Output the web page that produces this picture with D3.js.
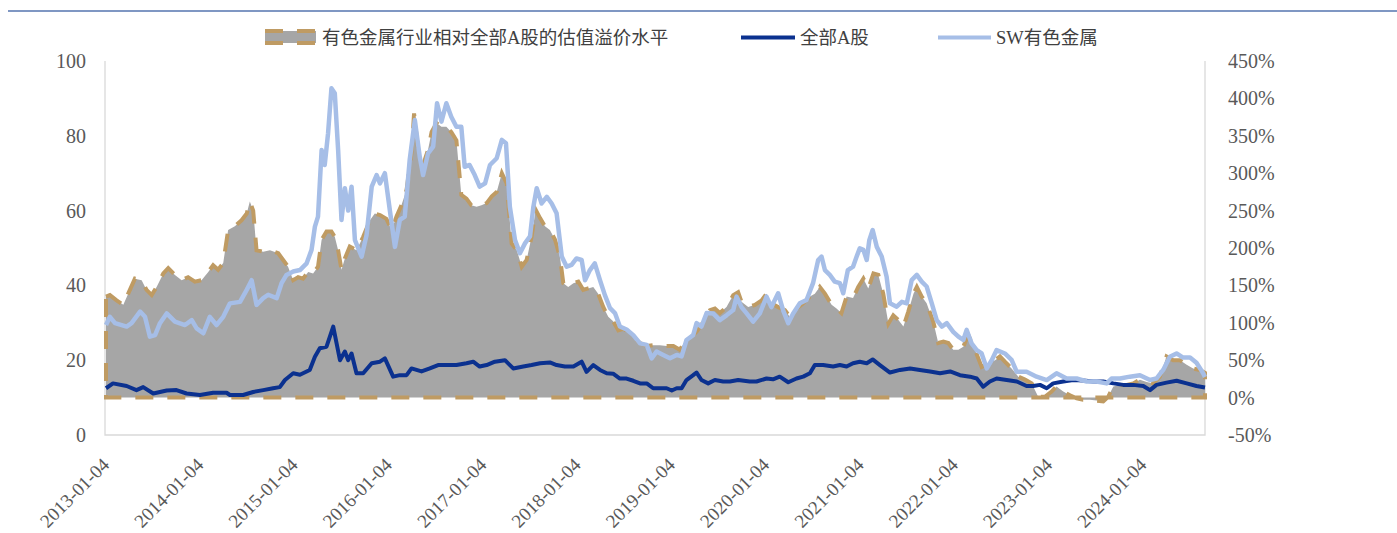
<!DOCTYPE html>
<html>
<head>
<meta charset="utf-8">
<script src="https://cdn.jsdelivr.net/npm/d3@7"></script>
<style>
  body { margin: 0; background: #fff; }
  text { font-family: "Liberation Serif", "Noto Sans CJK SC", serif; }
</style>
</head>
<body>
<svg id="chart"></svg>
<script>
// SW有色金属 PE
const swMetals = [
  ["2013-01-04",29.4],["2013-01-19",31.6],["2013-02-08",29.9],["2013-03-25",29.0],["2013-04-13",29.9],
  ["2013-05-16",33.0],["2013-06-04",31.6],["2013-06-23",26.3],["2013-07-13",26.7],["2013-08-01",29.9],
  ["2013-08-27",32.5],["2013-09-28",30.3],["2013-11-06",29.4],["2013-12-02",30.7],["2013-12-21",28.5],
  ["2014-01-16",27.2],["2014-02-10",31.6],["2014-03-08",29.4],["2014-04-03",31.6],["2014-04-29",35.2],
  ["2014-06-07",35.6],["2014-07-03",38.8],["2014-07-22",41.4],["2014-08-10",34.8],["2014-09-05",36.6],
  ["2014-09-24",37.5],["2014-10-27",36.6],["2014-11-15",40.6],["2014-12-04",42.8],["2014-12-30",43.7],
  ["2015-01-25",44.1],["2015-02-20",45.9],["2015-03-11",49.5],["2015-03-24",55.7],["2015-04-05",58.4],
  ["2015-04-19",76.2],["2015-05-01",72.2],["2015-05-14",80.7],["2015-05-27",92.7],["2015-06-09",91.4],
  ["2015-06-22",76.2],["2015-07-05",57.5],["2015-07-18",66.0],["2015-07-31",60.0],["2015-08-13",66.4],
  ["2015-08-26",52.1],["2015-09-21",47.7],["2015-10-10",53.5],["2015-10-30",66.4],["2015-11-18",69.5],
  ["2015-12-01",67.3],["2015-12-20",70.0],["2016-01-08",60.2],["2016-01-28",50.3],["2016-02-16",57.5],
  ["2016-03-06",58.4],["2016-03-25",73.5],["2016-04-14",84.2],["2016-05-03",74.4],["2016-05-16",69.5],
  ["2016-06-04",75.3],["2016-06-24",77.1],["2016-07-09",88.7],["2016-07-26",83.8],["2016-08-14",88.7],
  ["2016-09-02",85.1],["2016-09-22",82.4],["2016-10-11",82.4],["2016-10-24",71.7],["2016-11-12",72.2],
  ["2016-12-02",69.5],["2016-12-21",66.4],["2017-01-11",67.3],["2017-01-30",72.2],["2017-02-25",74.0],
  ["2017-03-17",78.9],["2017-04-02",78.0],["2017-04-17",61.0],["2017-05-07",52.1],["2017-05-26",48.6],
  ["2017-06-15",51.3],["2017-07-04",53.1],["2017-07-17",61.0],["2017-07-30",66.0],["2017-08-18",61.9],
  ["2017-09-07",63.7],["2017-09-26",61.9],["2017-10-15",59.3],["2017-11-04",47.7],["2017-11-23",45.0],
  ["2017-12-12",45.5],["2017-12-31",47.2],["2018-01-20",46.8],["2018-02-02",41.4],["2018-02-21",44.1],
  ["2018-03-12",45.9],["2018-04-01",41.4],["2018-04-20",37.4],["2018-05-10",33.9],["2018-05-29",32.6],
  ["2018-06-17",29.0],["2018-07-13",28.2],["2018-08-08",26.7],["2018-09-03",24.5],["2018-09-29",24.1],
  ["2018-10-18",20.5],["2018-11-06",22.3],["2018-12-02",21.4],["2018-12-28",20.5],["2019-01-23",21.4],
  ["2019-02-11",21.0],["2019-03-02",25.4],["2019-03-28",26.7],["2019-04-10",29.9],["2019-04-29",29.0],
  ["2019-05-19",32.6],["2019-06-13",32.5],["2019-07-09",30.7],["2019-08-04",32.0],["2019-08-30",33.4],
  ["2019-09-12",37.0],["2019-10-01",34.2],["2019-10-21",32.5],["2019-11-15",30.3],["2019-12-11",32.5],
  ["2020-01-06",37.0],["2020-01-25",34.2],["2020-02-20",37.9],["2020-03-10",33.4],["2020-03-30",29.9],
  ["2020-04-18",32.5],["2020-05-14",35.2],["2020-06-09",36.1],["2020-07-04",40.6],["2020-07-24",46.8],
  ["2020-08-06",47.7],["2020-08-19",44.1],["2020-09-07",42.8],["2020-09-26",41.0],["2020-10-16",40.6],
  ["2020-10-29",37.9],["2020-11-16",44.1],["2020-12-06",45.0],["2020-12-20",47.7],["2021-01-01",49.9],
  ["2021-01-15",49.5],["2021-01-28",46.8],["2021-02-07",52.1],["2021-02-20",54.8],["2021-03-08",50.3],
  ["2021-03-27",47.7],["2021-04-15",42.3],["2021-04-28",35.2],["2021-05-24",34.3],["2021-06-13",35.6],
  ["2021-07-02",35.2],["2021-07-21",41.4],["2021-08-10",42.8],["2021-08-29",41.0],["2021-09-17",39.7],
  ["2021-10-07",35.2],["2021-10-26",30.7],["2021-11-15",29.0],["2021-12-04",29.9],["2021-12-29",27.6],
  ["2022-01-18",26.3],["2022-02-06",25.4],["2022-02-19",28.1],["2022-03-10",24.5],["2022-03-30",22.7],
  ["2022-04-18",21.8],["2022-05-08",17.8],["2022-05-27",20.0],["2022-06-15",22.7],["2022-07-17",21.8],
  ["2022-08-12",20.1],["2022-09-01",16.9],["2022-10-09",16.9],["2022-11-17",15.6],["2022-12-26",14.7],
  ["2023-02-02",16.5],["2023-03-13",15.1],["2023-04-21",15.1],["2023-05-30",14.3],["2023-07-07",14.3],
  ["2023-08-15",13.8],["2023-09-03",15.1],["2023-10-06",15.1],["2023-11-13",15.6],["2023-12-22",16.0],
  ["2024-01-30",14.7],["2024-02-24",15.1],["2024-03-21",17.4],["2024-04-16",20.9],["2024-05-12",21.8],
  ["2024-06-06",20.7],["2024-07-03",20.7],["2024-07-28",19.3],["2024-08-23",16.5],["2024-08-30",15.5]
];

// 全部A股 PE
const allShares = [
  ["2013-01-04",12.5],["2013-01-31",13.8],["2013-03-25",13.1],["2013-05-02",12.0],["2013-05-28",12.8],
  ["2013-07-06",11.1],["2013-08-27",11.9],["2013-10-04",12.0],["2013-11-12",11.1],["2014-01-03",10.7],
  ["2014-02-23",11.3],["2014-04-16",11.3],["2014-04-29",10.7],["2014-06-19",10.7],["2014-07-28",11.5],
  ["2014-09-05",12.0],["2014-10-13",12.5],["2014-11-08",12.8],["2014-11-28",14.7],["2014-12-30",16.5],
  ["2015-01-25",16.1],["2015-03-04",17.4],["2015-03-24",20.9],["2015-04-12",23.2],["2015-05-08",23.6],
  ["2015-05-21",26.3],["2015-06-03",29.0],["2015-06-16",24.5],["2015-06-29",20.0],["2015-07-18",22.3],
  ["2015-07-31",20.0],["2015-08-13",21.8],["2015-09-01",16.5],["2015-09-27",16.5],["2015-10-30",19.2],
  ["2015-12-01",19.6],["2015-12-20",20.5],["2016-01-21",15.6],["2016-02-16",16.0],["2016-03-13",16.0],
  ["2016-04-01",17.8],["2016-05-10",17.0],["2016-06-11",17.8],["2016-07-13",18.7],["2016-08-14",18.7],
  ["2016-09-22",18.7],["2016-10-31",19.2],["2016-11-26",19.6],["2016-12-21",18.3],["2017-01-17",18.7],
  ["2017-02-18",19.6],["2017-03-29",20.0],["2017-04-30",17.8],["2017-06-08",18.3],["2017-07-10",18.7],
  ["2017-08-12",19.2],["2017-09-19",19.4],["2017-10-15",18.7],["2017-11-16",18.3],["2017-12-19",18.3],
  ["2018-01-20",19.6],["2018-02-08",16.9],["2018-03-06",18.7],["2018-04-01",17.4],["2018-04-27",16.5],
  ["2018-05-22",16.4],["2018-06-17",15.1],["2018-07-13",15.1],["2018-08-08",14.5],["2018-09-03",13.8],
  ["2018-09-29",13.8],["2018-10-24",12.5],["2018-11-19",12.5],["2018-12-15",12.5],["2019-01-04",11.9],
  ["2019-01-23",12.5],["2019-02-11",12.5],["2019-03-02",14.7],["2019-03-28",16.0],["2019-04-10",16.7],
  ["2019-04-29",14.7],["2019-05-25",13.8],["2019-06-20",14.7],["2019-07-22",14.3],["2019-08-17",14.3],
  ["2019-09-18",14.7],["2019-11-02",14.3],["2019-11-28",14.3],["2020-01-06",15.1],["2020-01-31",14.9],
  ["2020-02-26",15.6],["2020-03-30",14.1],["2020-05-01",15.1],["2020-05-27",15.6],["2020-06-22",16.5],
  ["2020-07-11",18.7],["2020-08-12",18.7],["2020-09-20",18.3],["2020-10-16",18.7],["2020-11-11",18.3],
  ["2020-12-06",19.2],["2021-01-01",19.6],["2021-01-28",19.2],["2021-02-20",20.2],["2021-03-20",18.7],
  ["2021-04-28",16.7],["2021-06-06",17.4],["2021-07-15",17.8],["2021-08-22",17.4],["2021-09-30",17.0],
  ["2021-11-08",16.5],["2021-12-17",17.0],["2022-01-24",16.0],["2022-03-04",15.6],["2022-03-30",15.1],
  ["2022-04-24",12.9],["2022-05-20",14.3],["2022-06-15",15.1],["2022-07-24",14.7],["2022-09-01",14.3],
  ["2022-10-09",13.1],["2022-11-04",13.1],["2022-11-30",13.4],["2022-12-26",12.5],["2023-01-20",13.8],
  ["2023-02-28",14.3],["2023-04-08",14.7],["2023-05-16",14.6],["2023-06-24",14.3],["2023-08-02",14.3],
  ["2023-09-10",13.8],["2023-10-18",13.4],["2023-11-26",13.4],["2024-01-04",13.1],["2024-01-30",12.0],
  ["2024-02-24",13.4],["2024-04-03",14.0],["2024-05-12",14.5],["2024-06-20",13.8],["2024-07-28",13.1],
  ["2024-08-30",12.7]
];

// 估值溢价水平 (%)
const premium = [
  ["2013-01-04",135],["2013-01-19",137],["2013-02-14",130],["2013-03-12",124],["2013-03-31",139],
  ["2013-04-26",159],["2013-05-22",157],["2013-06-10",144],["2013-06-30",137],["2013-07-19",148],
  ["2013-08-14",166],["2013-09-02",173],["2013-09-28",164],["2013-10-24",157],["2013-11-18",161],
  ["2013-12-14",155],["2014-01-09",157],["2014-02-04",168],["2014-02-23",177],["2014-03-14",171],
  ["2014-04-03",180],["2014-04-22",224],["2014-05-18",229],["2014-06-13",237],["2014-07-03",246],
  ["2014-07-15",262],["2014-07-28",250],["2014-08-10",197],["2014-09-05",195],["2014-10-01",197],
  ["2014-11-02",193],["2014-11-21",184],["2014-12-10",175],["2014-12-30",157],["2015-01-18",161],
  ["2015-02-06",159],["2015-02-26",168],["2015-03-17",166],["2015-04-05",175],["2015-04-19",211],
  ["2015-05-08",222],["2015-05-27",222],["2015-06-09",215],["2015-06-22",197],["2015-07-05",171],
  ["2015-07-18",186],["2015-08-06",202],["2015-09-01",197],["2015-09-27",215],["2015-10-23",237],
  ["2015-11-11",246],["2015-12-01",244],["2015-12-26",239],["2016-01-15",224],["2016-02-03",242],
  ["2016-02-22",257],["2016-03-13",278],["2016-04-01",327],["2016-04-11",380],["2016-04-27",331],
  ["2016-05-16",311],["2016-06-04",331],["2016-06-18",355],["2016-07-07",367],["2016-07-26",362],
  ["2016-08-14",362],["2016-09-02",355],["2016-09-22",344],["2016-10-11",271],["2016-10-31",266],
  ["2016-11-19",257],["2016-12-09",255],["2016-12-28",257],["2017-01-17",260],["2017-02-06",269],
  ["2017-02-25",275],["2017-03-17",300],["2017-04-05",286],["2017-04-24",206],["2017-05-14",197],
  ["2017-06-02",175],["2017-06-21",184],["2017-07-10",215],["2017-07-26",251],["2017-08-12",240],
  ["2017-08-31",229],["2017-09-19",224],["2017-10-09",211],["2017-10-28",188],["2017-11-10",153],
  ["2017-11-29",148],["2017-12-19",153],["2018-01-07",155],["2018-01-26",144],["2018-02-14",146],
  ["2018-03-06",148],["2018-03-25",139],["2018-04-14",121],["2018-05-03",108],["2018-05-22",102],
  ["2018-06-11",90],["2018-06-30",92],["2018-07-19",88],["2018-08-08",81],["2018-09-03",73],
  ["2018-09-29",69],["2018-10-24",70],["2018-11-19",70],["2018-12-15",69],["2019-01-10",69],
  ["2019-02-04",64],["2019-02-24",75],["2019-03-15",79],["2019-04-10",88],["2019-05-06",101],
  ["2019-06-01",117],["2019-06-20",119],["2019-07-09",113],["2019-08-04",121],["2019-08-30",137],
  ["2019-09-18",141],["2019-10-01",128],["2019-10-27",121],["2019-11-22",124],["2019-12-18",130],
  ["2020-01-06",139],["2020-01-25",126],["2020-02-20",121],["2020-03-17",117],["2020-04-05",108],
  ["2020-05-01",119],["2020-05-27",126],["2020-06-22",135],["2020-07-11",139],["2020-07-30",148],
  ["2020-08-19",139],["2020-09-14",124],["2020-10-03",119],["2020-10-22",113],["2020-11-11",135],
  ["2020-12-06",133],["2020-12-26",148],["2021-01-15",159],["2021-02-03",146],["2021-02-23",166],
  ["2021-03-14",164],["2021-04-02",139],["2021-04-22",99],["2021-05-11",110],["2021-05-30",104],
  ["2021-06-19",95],["2021-07-08",115],["2021-07-28",139],["2021-08-10",148],["2021-08-29",135],
  ["2021-09-17",126],["2021-10-13",101],["2021-11-01",73],["2021-11-21",75],["2021-12-10",73],
  ["2021-12-29",64],["2022-01-18",64],["2022-02-06",68],["2022-02-25",84],["2022-03-23",64],
  ["2022-04-18",41],["2022-05-14",46],["2022-06-09",50],["2022-06-28",55],["2022-07-17",48],
  ["2022-08-12",39],["2022-09-07",28],["2022-10-03",24],["2022-10-29",19],["2022-11-23",1],
  ["2022-12-19",1],["2023-01-14",8],["2023-02-02",15],["2023-02-28",8],["2023-03-26",3],
  ["2023-04-21",-1],["2023-05-16",-3],["2023-06-11",-3],["2023-07-07",-4],["2023-08-02",-5],
  ["2023-08-21",1],["2023-09-10",15],["2023-10-06",17],["2023-11-01",17],["2023-11-26",19],
  ["2023-12-22",24],["2024-01-17",21],["2024-02-11",19],["2024-03-08",28],["2024-04-03",55],
  ["2024-04-29",50],["2024-05-25",50],["2024-06-20",44],["2024-07-15",39],["2024-08-10",37],
  ["2024-08-30",33]
];

const leftTicks = [0, 20, 40, 60, 80, 100];
const rightTicks = [-50, 0, 50, 100, 150, 200, 250, 300, 350, 400, 450];
const dateTicks = ["2013-01-04","2014-01-04","2015-01-04","2016-01-04","2017-01-04","2018-01-04",
                   "2019-01-04","2020-01-04","2021-01-04","2022-01-04","2023-01-04","2024-01-04"];
const legendNames = ["有色金属行业相对全部A股的估值溢价水平", "全部A股", "SW有色金属"];

window.addEventListener('load', e => {
    let width = 1397;
    let height = 533;
    let left = 106, right = 1205, top = 61, bottom = 435;
    let fontStack = '"Liberation Serif", "Noto Sans CJK SC", serif';

    let parse = d3.timeParse("%Y-%m-%d");
    let fmt = d3.timeFormat("%Y-%m-%d");

    let svg = d3.select("#chart")
                .attr("width", width)
                .attr("height", height);

    let xScale = d3.scaleTime()
                   .domain([parse("2013-01-04"), parse("2024-08-30")])
                   .range([left, right]);

    let yLeft = d3.scaleLinear()
                  .domain([0, 100])
                  .range([bottom, top]);

    let yRight = d3.scaleLinear()
                   .domain([-50, 450])
                   .range([bottom, top]);

    // top rule of the page
    svg.append("line")
       .attr("x1", 8).attr("x2", width)
       .attr("y1", 11).attr("y2", 11)
       .attr("stroke", "#7F97C3")
       .attr("stroke-width", 2);

    // frame
    svg.append("path")
       .attr("d", `M${left - 1},${top}V${bottom}H${right}V${top}`)
       .attr("fill", "none")
       .attr("stroke", "#D9D9D9")
       .attr("stroke-width", 1.3);

    // premium area
    let area = d3.area()
                 .x(d => xScale(parse(d[0])))
                 .y0(yRight(0))
                 .y1(d => yRight(d[1]));

    svg.append("path")
       .datum(premium)
       .attr("d", area)
       .attr("fill", "#A6A6A6")
       .attr("stroke", "#BF9B63")
       .attr("stroke-width", 4)
       .attr("stroke-dasharray", "18,14");

    let line = d3.line()
                 .x(d => xScale(parse(d[0])))
                 .y(d => yLeft(d[1]));

    svg.append("path")
       .datum(allShares)
       .attr("d", line)
       .attr("fill", "none")
       .attr("stroke", "#0B318F")
       .attr("stroke-width", 4)
       .attr("stroke-linejoin", "round");

    svg.append("path")
       .datum(swMetals)
       .attr("d", line)
       .attr("fill", "none")
       .attr("stroke", "#A6BEE7")
       .attr("stroke-width", 4.5)
       .attr("stroke-linejoin", "round");

    // axes
    let leftAxis = d3.axisLeft(yLeft)
                     .tickValues(leftTicks)
                     .tickSize(0)
                     .tickPadding(19);

    let gl = svg.append("g")
                .attr("transform", "translate(" + (left - 1) + ",0)")
                .call(leftAxis);

    let rightAxis = d3.axisRight(yRight)
                      .tickValues(rightTicks)
                      .tickSize(0)
                      .tickPadding(23)
                      .tickFormat(d => d + "%");

    let gr = svg.append("g")
                .attr("transform", "translate(" + right + ",0)")
                .call(rightAxis);

    let xAxis = d3.axisBottom(xScale)
                  .tickValues(dateTicks.map(parse))
                  .tickSize(0)
                  .tickFormat(fmt);

    let gx = svg.append("g")
                .attr("transform", "translate(0," + bottom + ")")
                .call(xAxis);

    gx.selectAll("text")
      .attr("x", 0).attr("y", 0).attr("dy", 0)
      .attr("transform", "translate(4,31) rotate(-45)")
      .style("text-anchor", "end")
      .style("font-size", "19px");

    [gl, gr, gx].forEach(g => {
        g.select(".domain").remove();
        g.selectAll("text")
         .attr("fill", "#595959")
         .style("font-family", fontStack);
    });
    gl.selectAll("text").style("font-size", "20px");
    gr.selectAll("text").style("font-size", "20px");

    // legend
    let legend = svg.append("g")
                    .style("font-family", fontStack)
                    .style("font-size", "18.5px");

    legend.append("rect")
          .attr("x", 265).attr("y", 31)
          .attr("width", 51).attr("height", 12)
          .attr("fill", "#A6A6A6")
          .attr("stroke", "#BF9B63")
          .attr("stroke-width", 4)
          .attr("stroke-dasharray", "18,14");

    legend.append("text")
          .attr("x", 322).attr("y", 44)
          .attr("fill", "#404040")
          .text(legendNames[0]);

    legend.append("line")
          .attr("x1", 741).attr("x2", 795)
          .attr("y1", 37.5).attr("y2", 37.5)
          .attr("stroke", "#0B318F")
          .attr("stroke-width", 4);

    legend.append("text")
          .attr("x", 800).attr("y", 44)
          .attr("fill", "#404040")
          .text(legendNames[1]);

    legend.append("line")
          .attr("x1", 938).attr("x2", 991)
          .attr("y1", 37.5).attr("y2", 37.5)
          .attr("stroke", "#A6BEE7")
          .attr("stroke-width", 4);

    legend.append("text")
          .attr("x", 996).attr("y", 44)
          .attr("fill", "#404040")
          .text(legendNames[2]);
});
</script>
</body>
</html>
